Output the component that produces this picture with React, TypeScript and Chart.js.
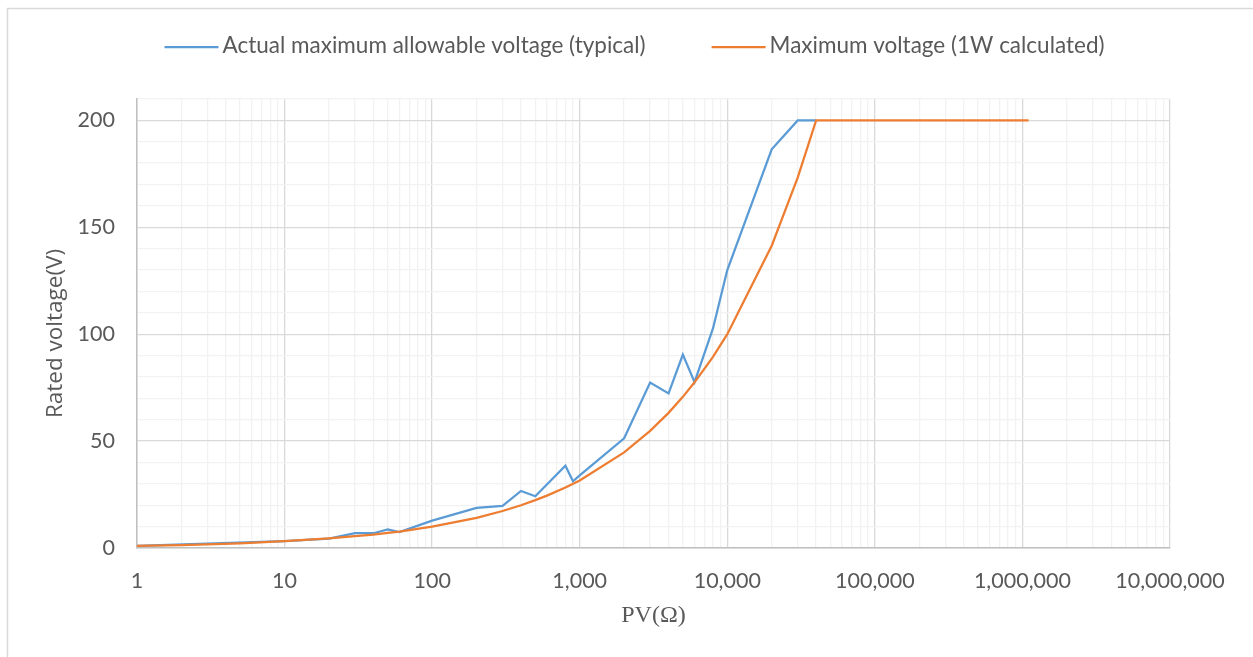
import React, { useEffect, useRef } from "react";
import { Chart, registerables } from "chart.js";

Chart.register(...registerables);

// Resistance values (Ω) and voltages (V)
const actualR = [1, 10, 20, 30, 40, 50, 60, 100, 200, 300, 400, 500, 800, 900, 1000, 2000, 3000, 4000, 5000, 6000, 8000, 10000, 20000, 30000, 40000];
const actualV = [1, 3.2, 4.4, 6.9, 6.9, 8.7, 7.4, 12.8, 18.8, 19.7, 26.7, 24.2, 38.5, 31.2, 34, 51.3, 77.4, 72.3, 90.5, 77.6, 102.7, 130, 186.5, 200, 200];

const calcR = [1, 2, 5, 10, 20, 30, 40, 50, 60, 100, 200, 300, 400, 500, 600, 800, 1000, 2000, 3000, 4000, 5000, 6000, 8000, 10000, 20000, 30000, 40000, 1100000];
const calcV = [1, 1.4, 2.2, 3.2, 4.5, 5.5, 6.3, 7.1, 7.7, 10, 14.1, 17.3, 20, 22.4, 24.5, 28.3, 31.6, 44.7, 54.8, 63.2, 70.7, 77.5, 89.4, 100, 141.4, 173.2, 200, 200];

const seriesLabels = ["Actual maximum allowable voltage (typical)", "Maximum voltage (1W calculated)"];
const seriesColors = ["#5B9BD5", "#ED7D31"];

const xMajorTicks = [1, 10, 100, 1000, 10000, 100000, 1000000, 10000000];
const yMajorTicks = [0, 50, 100, 150, 200];

const xTitle = "PV(Ω)";
const yTitle = "Rated voltage(V)";

const TEXT = "#595959";
const MAJOR_GRID = "#D9D9D9";
const MINOR_GRID = "#F2F2F2";

const isMajorX = (v: number) => xMajorTicks.some((m) => Math.abs(m - v) < m * 1e-6);

const framePlugin = {
  id: "frame",
  beforeDraw(chart: any) {
    const { ctx, width, height } = chart;
    ctx.save();
    ctx.fillStyle = "#ffffff";
    ctx.fillRect(0, 0, width, height);
    ctx.strokeStyle = "#D9D9D9";
    ctx.lineWidth = 1.5;
    ctx.beginPath();
    ctx.moveTo(7.5, height);
    ctx.lineTo(7.5, 8.5);
    ctx.lineTo(width, 8.5);
    ctx.stroke();
    ctx.restore();
  },
};

const legendPlugin = {
  id: "lineLegend",
  afterDraw(chart: any) {
    const { ctx } = chart;
    const sample = 54;
    const gap = 4;
    const spacing = 66;
    const y = 47;
    ctx.save();
    ctx.font = "22.5px Lato";
    const items = chart.data.datasets.map((ds: any) => ({
      text: ds.label,
      color: ds.borderColor,
      w: ctx.measureText(ds.label).width,
    }));
    const total = items.reduce((s: number, it: any) => s + sample + gap + it.w, 0) + spacing * (items.length - 1);
    let x = 634.5 - total / 2;
    items.forEach((it: any) => {
      ctx.strokeStyle = it.color;
      ctx.lineWidth = 2.25;
      ctx.beginPath();
      ctx.moveTo(x, y);
      ctx.lineTo(x + sample, y);
      ctx.stroke();
      ctx.fillStyle = TEXT;
      ctx.textBaseline = "middle";
      ctx.textAlign = "left";
      ctx.fillText(it.text, x + sample + gap, y - 1);
      x += sample + gap + it.w + spacing;
    });

    // vertical axis title
    ctx.font = "22.5px 'Open Sans'";
    ctx.fillStyle = TEXT;
    ctx.textAlign = "center";
    ctx.textBaseline = "middle";
    ctx.translate(56, (chart.chartArea.top + chart.chartArea.bottom) / 2 + 10);
    ctx.rotate(-Math.PI / 2);
    ctx.fillText(yTitle, 0, 0);
    ctx.restore();
  },
};

export default function App() {
  const canvasRef = useRef<HTMLCanvasElement | null>(null);

  useEffect(() => {
    if (!canvasRef.current) return;
    const chart = new Chart(canvasRef.current, {
      type: "line",
      data: {
        datasets: [
          {
            label: seriesLabels[0],
            data: actualR.map((r, i) => ({ x: r, y: actualV[i] })),
            borderColor: seriesColors[0],
            backgroundColor: seriesColors[0],
            borderWidth: 2.25,
            pointRadius: 0,
            tension: 0,
            order: 1,
          },
          {
            label: seriesLabels[1],
            data: calcR.map((r, i) => ({ x: r, y: calcV[i] })),
            borderColor: seriesColors[1],
            backgroundColor: seriesColors[1],
            borderWidth: 2.25,
            pointRadius: 0,
            tension: 0,
            order: 0,
          },
        ],
      },
      options: {
        animation: false,
        responsive: false,
        devicePixelRatio: 1,
        layout: { padding: { left: 8, right: 83, top: 99, bottom: 0 } },
        plugins: {
          legend: { display: false },
          tooltip: { enabled: false },
        },
        scales: {
          x: {
            type: "logarithmic",
            min: 1,
            max: 10000000,
            afterBuildTicks: (scale: any) => {
              const vals: number[] = [];
              xMajorTicks.forEach((m, i) => {
                if (i === xMajorTicks.length - 1) {
                  vals.push(m);
                } else {
                  for (let k = 1; k <= 9; k++) vals.push(k * m);
                }
              });
              scale.ticks = vals.map((v) => ({ value: v }));
            },
            afterFit: (scale: any) => {
              scale.height = 109;
            },
            ticks: {
              autoSkip: false,
              maxRotation: 0,
              padding: 20,
              color: TEXT,
              font: { family: "Lato", size: 21.5 },
              callback: (value: any) => (isMajorX(Number(value)) ? Number(value).toLocaleString("en-US") : ""),
            },
            grid: {
              drawTicks: false,
              lineWidth: 1.3,
              color: (ctx: any) => (ctx.tick && isMajorX(ctx.tick.value) ? MAJOR_GRID : MINOR_GRID),
            },
            border: { color: "#BFBFBF", width: 1.5 },
            title: {
              display: true,
              text: xTitle,
              color: TEXT,
              font: { family: "Liberation Serif", size: 24 },
              padding: { top: 0, bottom: 27 },
            },
          },
          y: {
            type: "linear",
            min: 0,
            max: 210,
            afterFit: (scale: any) => {
              scale.width = 129;
            },
            ticks: {
              stepSize: 10,
              autoSkip: false,
              padding: 22,
              color: TEXT,
              font: { family: "Lato", size: 21.5 },
              callback: (value: any) => (yMajorTicks.includes(Number(value)) ? String(value) : ""),
            },
            grid: {
              drawTicks: false,
              lineWidth: 1.3,
              color: (ctx: any) => (ctx.tick && yMajorTicks.includes(ctx.tick.value) ? MAJOR_GRID : MINOR_GRID),
            },
            border: { color: "#BFBFBF", width: 1.5 },
            title: { display: false },
          },
        },
      },
      plugins: [framePlugin, legendPlugin],
    });
    return () => chart.destroy();
  }, []);

  return (
    <div style={{ position: "fixed", left: 0, top: 0, width: 1253, height: 657, background: "#fff" }}>
      <canvas ref={canvasRef} width={1253} height={657} style={{ display: "block", width: 1253, height: 657 }} />
    </div>
  );
}
